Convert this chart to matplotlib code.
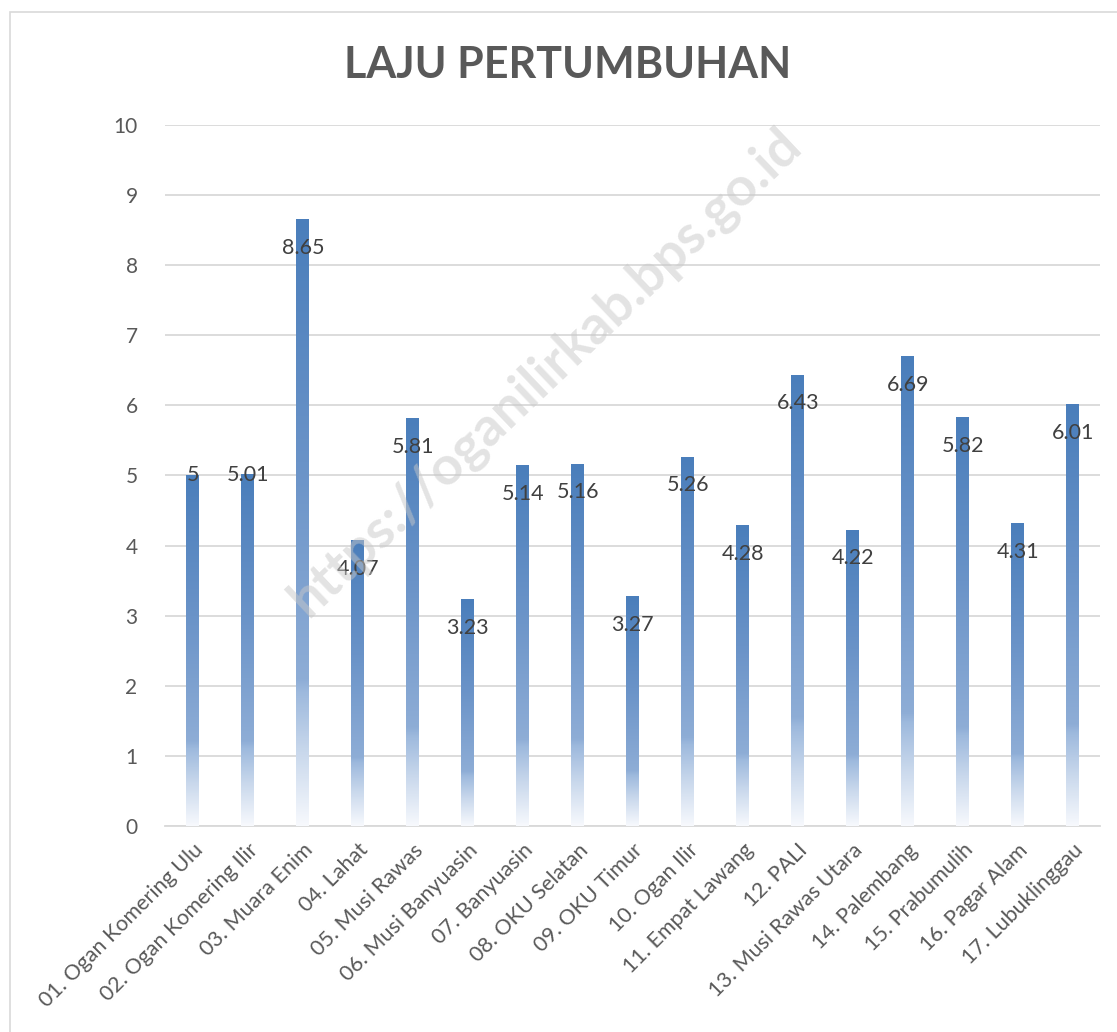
import numpy as np
import matplotlib.pyplot as plt
from matplotlib.colors import LinearSegmentedColormap
from matplotlib.patches import Rectangle

plt.rcParams['font.family'] = ['Lato', 'DejaVu Sans']

regions = ['01. Ogan Komering Ulu', '02. Ogan Komering Ilir', '03. Muara Enim',
           '04. Lahat', '05. Musi Rawas', '06. Musi Banyuasin', '07. Banyuasin',
           '08. OKU Selatan', '09. OKU Timur', '10. Ogan Ilir', '11. Empat Lawang',
           '12. PALI', '13. Musi Rawas Utara', '14. Palembang', '15. Prabumulih',
           '16. Pagar Alam', '17. Lubuklinggau']
growth = [5, 5.01, 8.65, 4.07, 5.81, 3.23, 5.14, 5.16, 3.27, 5.26, 4.28,
          6.43, 4.22, 6.69, 5.82, 4.31, 6.01]
labels = ['5', '5.01', '8.65', '4.07', '5.81', '3.23', '5.14', '5.16', '3.27',
          '5.26', '4.28', '6.43', '4.22', '6.69', '5.82', '4.31', '6.01']
# label sits a bit under the bar top, except the first two
label_drop = [0, 0] + [0.4] * 15

grey = '#595959'
fig = plt.figure(figsize=(11.17, 10.32), dpi=100)
ax = fig.add_axes([0.148, 0.1996, 0.837, 0.6794])

cmap = LinearSegmentedColormap.from_list('bar', [
    (0.0, '#f7f9fd'), (0.12, '#c9d8ec'), (0.22, '#9db9dd'),
    (0.24, '#8eadd6'), (0.6, '#6a93c8'), (1.0, '#4a7ebb')])
grad = np.linspace(0, 1, 256).reshape(-1, 1)

x = np.arange(len(regions))
w = 0.23
bars = ax.bar(x, growth, width=w, color='none', zorder=3)
for b, v in zip(bars, growth):
    ax.imshow(grad, cmap=cmap, origin='lower', aspect='auto',
              extent=[b.get_x(), b.get_x() + w, 0, v], zorder=3)

for xi, v, t, d in zip(x, growth, labels, label_drop):
    ax.text(xi, v - d, t, ha='center', va='center', fontsize=15.5, color='#404040', zorder=5)

ax.set_xlim(-0.5, len(regions) - 0.5)
ax.set_ylim(0, 10)
ax.set_yticks(range(0, 11))
ax.set_xticks(x)
ax.set_xticklabels(regions, rotation=45, ha='right', rotation_mode='anchor',
                   fontsize=15.5, color=grey)
ax.tick_params(axis='y', length=0, labelsize=15, labelcolor=grey, pad=20)
ax.tick_params(axis='x', length=0, pad=10)
ax.grid(axis='y', color='#d9d9d9', linewidth=1.3, zorder=0)
for s in ['top', 'right', 'left']:
    ax.spines[s].set_visible(False)
ax.spines['bottom'].set_color('#d9d9d9')
ax.spines['bottom'].set_linewidth(1.3)

fig.text(0.508, 0.937, 'LAJU PERTUMBUHAN', ha='center', va='center',
         fontsize=31, fontweight='bold', color=grey)

fig.text(0.488, 0.64, 'https://oganilirkab.bps.go.id', ha='center', va='center',
         rotation=43.5, fontsize=39, fontweight='bold', color='#c8c8c8', alpha=0.5, zorder=10)

fig.patches.append(Rectangle((0.009, -0.01), 1.0, 0.998, transform=fig.transFigure,
                             fill=False, edgecolor='#d9d9d9', linewidth=1.2))

fig.savefig('out.png', dpi=100)
